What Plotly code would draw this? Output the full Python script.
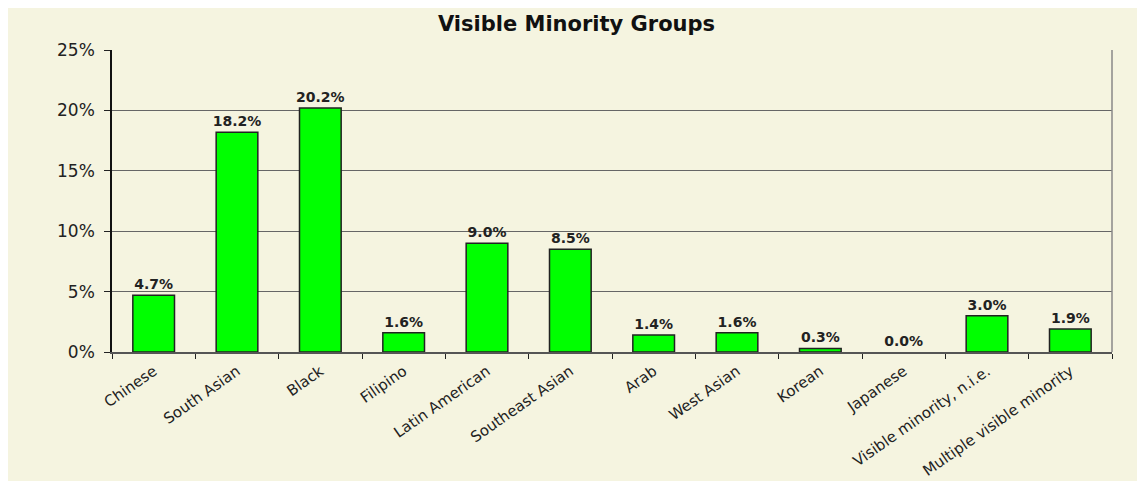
import plotly.graph_objects as go

# --- data ---
groups = ["Chinese", "South Asian", "Black", "Filipino", "Latin American",
          "Southeast Asian", "Arab", "West Asian", "Korean", "Japanese",
          "Visible minority, n.i.e.", "Multiple visible minority"]
shares = [4.7, 18.2, 20.2, 1.6, 9.0, 8.5, 1.4, 1.6, 0.3, 0.0, 3.0, 1.9]

BEIGE = "#F5F4E0"
FONT = "DejaVu Sans"

fig = go.Figure(go.Bar(
    x=groups,
    y=[s / 100 for s in shares],
    marker=dict(color="#00FF00",
                line=dict(color="#222222", width=[1.5 if s > 0 else 0 for s in shares])),
    text=[f"{s:.1f}%" for s in shares],
    textposition="outside",
    constraintext="none",
    textfont=dict(family=FONT, size=14, color="#222222"),
    texttemplate="<b>%{text}</b>",
    cliponaxis=False,
))

# the page body adds an 8px margin, so the figure is 8px smaller than the window
fig.update_layout(
    width=1137, height=473,
    margin=dict(l=104, r=33, t=42, b=129),
    paper_bgcolor=BEIGE,
    plot_bgcolor=BEIGE,
    bargap=0.5,
    showlegend=False,
    font=dict(family=FONT, color="#222222"),
    title=dict(text="<b>Visible Minority Groups</b>", x=0.5, xanchor="center",
               y=1 - 16 / 473, yanchor="middle",
               font=dict(family=FONT, size=21, color="#111111")),
)

fig.update_xaxes(
    tickangle=-35,
    tickfont=dict(family=FONT, size=15, color="#222222"),
    showline=True, linecolor="#555555", linewidth=1.5,
    ticks="outside", ticklen=5, tickcolor="#222222", tickson="boundaries",
    ticklabelstandoff=3,
    automargin=False,
)
fig.update_yaxes(
    range=[0, 0.25],
    tickvals=[0, 0.05, 0.10, 0.15, 0.20, 0.25],
    tickformat=".0%",
    tickfont=dict(family=FONT, size=17, color="#222222"),
    showgrid=True, gridcolor="#666666", gridwidth=1,
    showline=True, linecolor="#111111", linewidth=1.5,
    ticks="outside", ticklen=6, tickcolor="#222222",
    ticklabelstandoff=6,
    zeroline=False, automargin=False,
)
# grey right border of the plot area
fig.add_shape(type="line", xref="paper", yref="paper", x0=1, x1=1, y0=0, y1=1,
              line=dict(color="#888888", width=1.5))

fig.write_html("out.html")
